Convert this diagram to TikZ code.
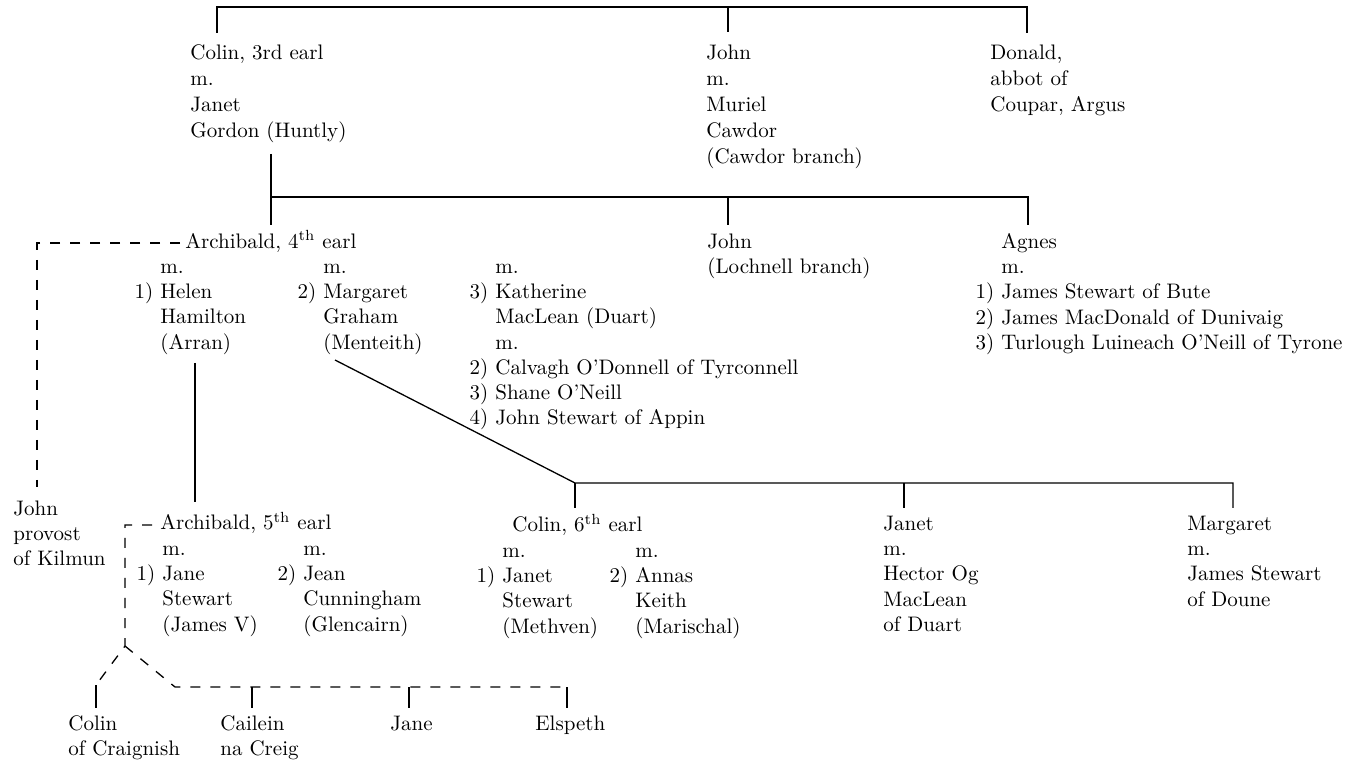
\documentclass[tikz,border=0pt]{standalone}
\usetikzlibrary{positioning}

\begin{document}
\begin{tikzpicture}[
    x=0.5pt, y=-0.5pt,
    person/.style={anchor=north west, yshift=8.8pt, align=left, inner sep=0pt,
                   font=\fontsize{10.5}{12.6}\selectfont},
    elder/.style={person, font=\fontsize{10.5}{13}\selectfont},
    tie/.style={draw, line width=0.65pt},
    dtie/.style={draw, line width=0.65pt, dash pattern=on 5pt off 5pt}
]
    \useasboundingbox (0,0) rectangle (1350,764);

    % First generation
    \node[elder] (colin3) at (190,59) {\strut Colin, 3rd earl\\m.\\Janet\\Gordon (Huntly)};
    \node[elder] (johnC) at (706,59) {\strut John\\m.\\Muriel\\Cawdor\\(Cawdor branch)};
    \node[elder] (donald) at (990,59) {\strut Donald,\\abbot of\\Coupar, Argus};

    % Second generation
    \node[person] (arch4) at (185,248) {\strut Archibald, 4\textsuperscript{th} earl};
    \node[person] (arch4a) at (160,273) {\strut m.\\\llap{1) }Helen\\Hamilton\\(Arran)};
    \node[person] (arch4b) at (323,273) {\strut m.\\\llap{2) }Margaret\\Graham\\(Menteith)};
    \node[person] (arch4c) at (495,273) {\strut m.\\\llap{3) }Katherine\\MacLean (Duart)\\m.\\\llap{2) }Calvagh O'Donnell of Tyrconnell\\\llap{3) }Shane O'Neill\\\llap{4) }John Stewart of Appin};
    \node[person] (johnL) at (707,248) {\strut John\\(Lochnell branch)};
    \node[person] (agnes) at (1001,248) {\strut Agnes\\m.\\\llap{1) }James Stewart of Bute\\\llap{2) }James MacDonald of Dunivaig\\\llap{3) }Turlough Luineach O'Neill of Tyrone};

    % Third generation
    \node[person] (johnK) at (13,515) {\strut John\\provost\\of Kilmun};
    \node[person] (arch5) at (160,529) {\strut Archibald, 5\textsuperscript{th} earl};
    \node[person] (arch5a) at (162,555) {\strut m.\\\llap{1) }Jane\\Stewart\\(James V)};
    \node[person] (arch5b) at (303,555) {\strut m.\\\llap{2) }Jean\\Cunningham\\(Glencairn)};
    \node[person] (colin6) at (512,531) {\strut Colin, 6\textsuperscript{th} earl};
    \node[person] (colin6a) at (502,557) {\strut m.\\\llap{1) }Janet\\Stewart\\(Methven)};
    \node[person] (colin6b) at (635,557) {\strut m.\\\llap{2) }Annas\\Keith\\(Marischal)};
    \node[person] (janetH) at (883,530) {\strut Janet\\m.\\Hector Og\\MacLean\\of Duart};
    \node[person] (margD) at (1187,530) {\strut Margaret\\m.\\James Stewart\\of Doune};

    % Fourth generation
    \node[person] (colinC) at (68,730) {\strut Colin\\of Craignish};
    \node[person] (cailein) at (220,730) {\strut Cailein\\na Creig};
    \node[person] (jane) at (390,730) {\strut Jane};
    \node[person] (elspeth) at (535,730) {\strut Elspeth};

    % Junction points
    \coordinate (t0) at (217,33);
    \coordinate (t1) at (1027,7);
    \coordinate (t2) at (1027,33);
    \coordinate (tj) at (728,32);
    \coordinate (s0) at (271,154);
    \coordinate (s1) at (271,225);
    \coordinate (s2) at (1028,197);
    \coordinate (s3) at (1028,225);
    \coordinate (sj) at (728,225);
    \coordinate (k0) at (180,243);
    \coordinate (k1) at (37,487);
    \coordinate (h0) at (195,363);
    \coordinate (h1) at (195,502);
    \coordinate (g0) at (335,360);
    \coordinate (g1) at (575,483);
    \coordinate (g2) at (1233,508);
    \coordinate (g3) at (575,508);
    \coordinate (g4) at (904,508);
    \coordinate (d0) at (152,525);
    \coordinate (d1) at (125,646);
    \coordinate (d2) at (96,685);
    \coordinate (d3) at (175,687);
    \coordinate (d4) at (567,687);
    \coordinate (c1) at (96,708);
    \coordinate (c2) at (252,708);
    \coordinate (c3) at (409,708);
    \coordinate (c4) at (567,708);

    % Connectors
    \draw[tie] (t0) |- (t1) -- (t2);
    \draw[tie] (tj) -- (tj |- t1);
    \draw[tie] (s0) -- (s1);
    \draw[tie] (s0 |- s2) -- (s2) -- (s3);
    \draw[tie] (sj) -- (sj |- s2);
    \draw[dtie] (k0) -| (k1);
    \draw[tie] (h0) -- (h1);
    \draw[tie] (g0) -- (g1) -| (g2);
    \draw[tie] (g1) -- (g3);
    \draw[tie] (g4) -- (g4 |- g1);
    \draw[dtie] (d0) -| (d1) -- (d2);
    \draw[dtie] (d1) -- (d3) -- (d4);
    \draw[tie] (d2) -- (c1);
    \draw[tie] (c2 |- d4) -- (c2);
    \draw[tie] (c3 |- d4) -- (c3);
    \draw[tie] (d4) -- (c4);
\end{tikzpicture}
\end{document}
